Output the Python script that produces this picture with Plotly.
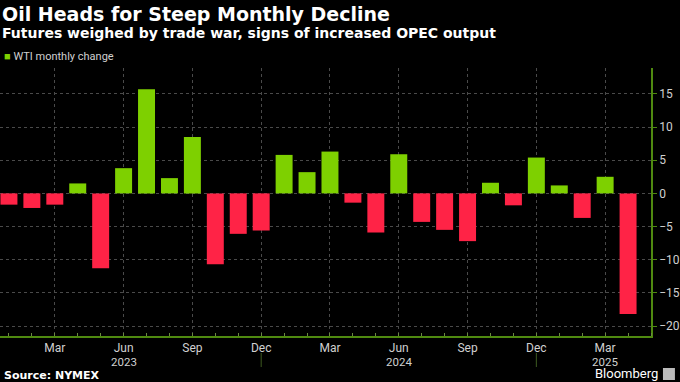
import plotly.graph_objects as go

months = ["Jan 2023", "Feb 2023", "Mar 2023", "Apr 2023", "May 2023", "Jun 2023",
          "Jul 2023", "Aug 2023", "Sep 2023", "Oct 2023", "Nov 2023", "Dec 2023",
          "Jan 2024", "Feb 2024", "Mar 2024", "Apr 2024", "May 2024", "Jun 2024",
          "Jul 2024", "Aug 2024", "Sep 2024", "Oct 2024", "Nov 2024", "Dec 2024",
          "Jan 2025", "Feb 2025", "Mar 2025", "Apr 2025"]
wti_change = [-1.7, -2.2, -1.7, 1.5, -11.3, 3.8, 15.7, 2.3, 8.5, -10.7, -6.1, -5.6,
              5.8, 3.2, 6.3, -1.4, -5.9, 5.9, -4.3, -5.5, -7.2, 1.6, -1.8, 5.4,
              1.2, -3.7, 2.5, -18.2]
tick_months = ["Mar 2023", "Jun 2023", "Sep 2023", "Dec 2023", "Mar 2024",
               "Jun 2024", "Sep 2024", "Dec 2024", "Mar 2025"]
tick_labels = ["Mar", "Jun", "Sep", "Dec", "Mar", "Jun", "Sep", "Dec", "Mar"]
year_label_months = ["Jun 2023", "Jun 2024", "Mar 2025"]
year_labels = ["2023", "2024", "2025"]
year_breaks = ["Dec 2023", "Dec 2024"]
y_ticks = [-20, -15, -10, -5, 0, 5, 10, 15]

GREEN = "#7ed000"
RED = "#ff2346"
AXIS_GREEN = "#4f8a10"
FONT = "Roboto"
HEAD_FONT = "DejaVu Sans"
PLOT_H = 268
B = 46

def py(pix_from_top):
    return (382 - pix_from_top - B) / PLOT_H

xs = list(range(len(months)))
colors = [GREEN if v >= 0 else RED for v in wti_change]

fig = go.Figure()
fig.add_trace(go.Bar(x=xs, y=wti_change, marker=dict(color=colors, line=dict(width=0)),
                     showlegend=False, hoverinfo="y"))

fig.update_layout(
    width=680, height=382,
    paper_bgcolor="black", plot_bgcolor="black",
    margin=dict(l=0, r=27, t=68, b=B),
    bargap=0.26,
    font=dict(family=FONT, color="#d0d0d0", size=12),
    xaxis=dict(
        range=[-0.39, 28.0],
        tickvals=[months.index(m) for m in tick_months],
        ticktext=tick_labels,
        showgrid=True, gridcolor="#4a4a4a", griddash="dot", gridwidth=1,
        showline=True, linecolor=AXIS_GREEN, linewidth=1.5,
        ticks="", zeroline=False,
        tickfont=dict(size=12, color="#d0d0d0"),
        minor=dict(dtick=1, tick0=0, ticks="inside", ticklen=3, tickcolor="#6a8a40", showgrid=False),
        fixedrange=True,
    ),
    yaxis=dict(
        side="right",
        range=[-21.5, 18.9],
        tickvals=y_ticks,
        showgrid=True, gridcolor="#4a4a4a", griddash="dot", gridwidth=1,
        showline=True, linecolor=AXIS_GREEN, linewidth=1.5,
        ticks="outside", ticklen=4, tickcolor=AXIS_GREEN,
        zeroline=False,
        tickfont=dict(size=12, color="#d0d0d0"),
        fixedrange=True,
    ),
)

# year labels under the month labels
for m, lab in zip(year_label_months, year_labels):
    fig.add_annotation(xref="x", yref="paper", x=months.index(m), y=py(361.5),
                       text=lab, showarrow=False, xanchor="center", yanchor="middle",
                       borderpad=0, font=dict(size=11.5, color="#d0d0d0", family=FONT))

# year separator marks below the axis
for m in year_breaks:
    fig.add_shape(type="line", xref="x", yref="paper",
                  x0=months.index(m), x1=months.index(m), y0=py(353), y1=py(367),
                  line=dict(color="#3d5a20", width=1))

annotations = [
    dict(text="<b>Oil Heads for Steep Monthly Decline</b>", x=0, y=14,
         font=dict(size=19, color="white", family=HEAD_FONT)),
    dict(text="<b>Futures weighed by trade war, signs of increased OPEC output</b>", x=0, y=33,
         font=dict(size=14, color="white", family=HEAD_FONT)),
    dict(text=f"<span style='color:{GREEN}'>■</span> WTI monthly change", x=2, y=56,
         font=dict(size=11, color="#d0d0d0", family=FONT)),
    dict(text="<b>Source: NYMEX</b>", x=2, y=375,
         font=dict(size=11, color="white", family=HEAD_FONT)),
]
for a in annotations:
    fig.add_annotation(xref="paper", yref="paper", xanchor="left", yanchor="middle",
                       showarrow=False, text=a["text"], font=a["font"],
                       x=a["x"] / 653, y=py(a["y"]))

fig.add_annotation(xref="paper", yref="paper", xanchor="right", yanchor="bottom",
                   showarrow=False, text="Bloomberg", borderpad=0,
                   font=dict(size=13, color="white", family=FONT),
                   x=661 / 653, y=py(381.5))
fig.add_shape(type="rect", xref="paper", yref="paper",
              x0=665 / 653, x1=677 / 653, y0=py(380), y1=py(368),
              fillcolor="#bbbbbb", line=dict(width=0))

fig.write_html("out.html", config={"displayModeBar": False},
               post_script="document.body.style.margin='0';document.body.style.overflow='hidden';")
